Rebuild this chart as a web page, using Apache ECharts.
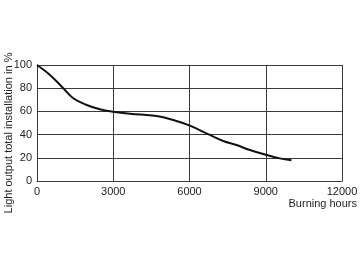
<!DOCTYPE html>
<html><head><meta charset="utf-8">
<script src="https://cdn.jsdelivr.net/npm/echarts@6/dist/echarts.min.js"></script>
<style>html,body{margin:0;padding:0;background:#fff}#c{width:360px;height:262px}</style>
</head><body><div id="c"></div>
<script>
const hours = [0, 511, 1035, 1428, 1954, 2477, 3000, 3656, 4706, 5360, 6015, 6802, 7326, 7850, 8374, 9030, 9554, 10013];
const lightOutput = [100, 91.4, 79.9, 71.3, 65.5, 61.8, 59.7, 58, 56, 52.6, 47.7, 39.7, 34.5, 31, 26.7, 22.4, 19.5, 17.8];
const xTicks = [0, 3000, 6000, 9000, 12000];
const yTicks = [0, 20, 40, 60, 80, 100];
const xName = 'Burning hours';
const yName = 'Light output total installation in %';

const chart = echarts.init(document.getElementById('c'), null, {renderer: 'canvas'});
const lineCol = '#3a3a3a';
const txt = '#222';
chart.setOption({
  animation: false,
  grid: {left: 37, right: 18, top: 65, bottom: 81, containLabel: false, outerBoundsMode: 'none'},
  graphic: [{
    type: 'text', x: 9, y: 133, rotation: Math.PI / 2,
    style: {text: yName, fill: txt, fontSize: 11, fontFamily: 'Liberation Sans', align: 'center', verticalAlign: 'middle'}
  }],
  xAxis: {
    type: 'value', min: xTicks[0], max: xTicks[xTicks.length-1], interval: 3000,
    name: xName, nameLocation: 'end', nameGap: 15,
    nameTextStyle: {color: txt, fontSize: 11, fontFamily: 'Liberation Sans', align: 'right', verticalAlign: 'top', padding: [17, 0, 0, 0]},
    axisLine: {lineStyle: {color: lineCol, width: 1}},
    axisTick: {show: false},
    axisLabel: {color: txt, fontSize: 11, fontFamily: 'Liberation Sans', margin: 5, formatter: v => String(v)},
    splitLine: {show: true, lineStyle: {color: lineCol, width: 1}}
  },
  yAxis: {
    type: 'value', min: yTicks[0], max: yTicks[yTicks.length-1], interval: 20,
    axisLine: {show: true, lineStyle: {color: lineCol, width: 1}},
    axisTick: {show: false},
    axisLabel: {color: txt, fontSize: 11, fontFamily: 'Liberation Sans', margin: 5, formatter: v => String(v)},
    splitLine: {show: true, lineStyle: {color: lineCol, width: 1}}
  },
  series: [{
    type: 'line', data: hours.map((h, i) => [h, lightOutput[i]]),
    smooth: 0.4, showSymbol: false,
    lineStyle: {color: '#111', width: 2}
  }]
});
</script></body></html>
